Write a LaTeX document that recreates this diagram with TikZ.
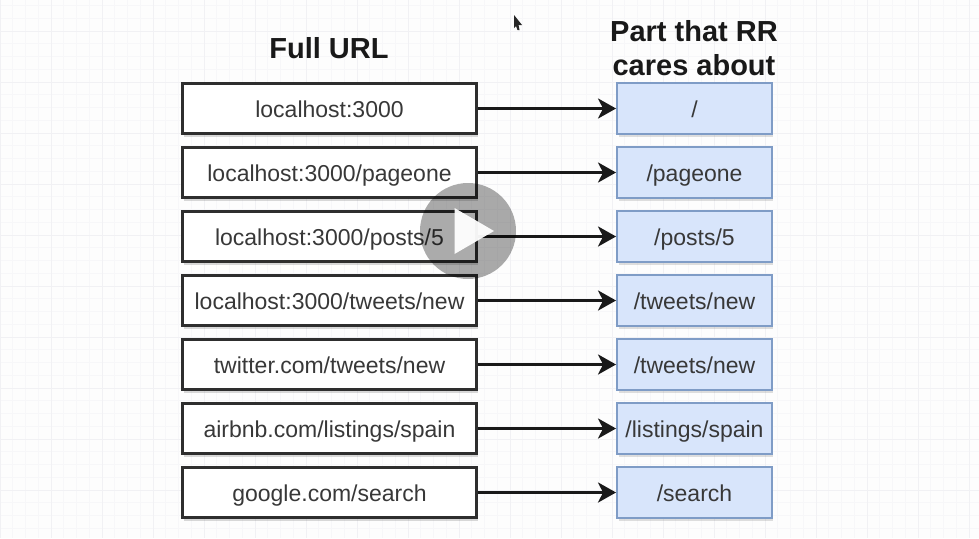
\documentclass[tikz,border=0pt]{standalone}
\usepackage{fontspec}
\setmainfont{Liberation Sans}
\usetikzlibrary{arrows.meta,shadows}
\definecolor{partfill}{HTML}{D8E5FB}
\definecolor{partline}{HTML}{7F9CC6}
\definecolor{urlline}{HTML}{2E2E2E}
\definecolor{gridfine}{HTML}{F7F7F9}
\definecolor{gridmajor}{HTML}{F1F1F4}
\definecolor{paper}{HTML}{FDFDFD}
\begin{document}
\begin{tikzpicture}[
    x=1pt, y=-1pt,
    urlbox/.style={rectangle, draw=urlline, fill=white, line width=3pt, minimum width=294pt, minimum height=50pt,
                   inner sep=0pt, font=\fontsize{23}{26}\selectfont, text=black!78, text height=22pt, text depth=5pt,
                   drop shadow={shadow xshift=1pt, shadow yshift=-3pt, opacity=0.3}},
    partbox/.style={rectangle, draw=partline, fill=partfill, line width=2.4pt, minimum width=154.5pt, minimum height=51pt,
                    inner sep=0pt, font=\fontsize{23}{26}\selectfont, text=black!78, text height=22pt, text depth=5pt,
                    drop shadow={shadow xshift=1.5pt, shadow yshift=-3pt, opacity=0.25}},
    title/.style={font=\fontsize{29}{34}\selectfont\bfseries, align=center, text=black!90, inner sep=0pt},
    link/.style={line width=3pt, {Stealth[length=18pt,width=20pt,inset=5pt]}-, black!90},
]
  \useasboundingbox (0,0) rectangle (979,538);
  \fill [paper] (0,0) rectangle (979,538);
  % grid
  \foreach \k in {0,...,76}
    \draw [gridfine, line width=1pt] (\k*12.75,0) -- (\k*12.75,538);
  \foreach \k in {0,...,42}
    \draw [gridfine, line width=1pt] (0,5.5+\k*12.75) -- (979,5.5+\k*12.75);
  \foreach \k in {0,...,19}
    \draw [gridmajor, line width=1pt] (\k*51,0) -- (\k*51,538);
  \foreach \k in {0,...,10}
    \draw [gridmajor, line width=1pt] (0,31+\k*51) -- (979,31+\k*51);

  \node [title] (fullhead) at (329,48)  {Full URL};
  \node [title] (parthead) at (694,48.5)  {Part that RR\\cares about};

  \node [urlbox]  (url1)  at (329.5,108.5) {localhost:3000};
  \node [urlbox]  (url2)  at (329.5,172.5) {localhost:3000/pageone};
  \node [urlbox]  (url3)  at (329.5,236.5) {localhost:3000/posts/5};
  \node [urlbox]  (url4)  at (329.5,300.5) {localhost:3000/tweets/new};
  \node [urlbox]  (url5)  at (329.5,364.5) {twitter.com/tweets/new};
  \node [urlbox]  (url6)  at (329.5,428.5) {airbnb.com/listings/spain};
  \node [urlbox]  (url7)  at (329.5,492.5) {google.com/search};

  \node [partbox] (part1) at (694.5,108.5) {/}               edge [link] (url1);
  \node [partbox] (part2) at (694.5,172.5) {/pageone}        edge [link] (url2);
  \node [partbox] (part3) at (694.5,236.5) {/posts/5}        edge [link] (url3);
  \node [partbox] (part4) at (694.5,300.5) {/tweets/new}     edge [link] (url4);
  \node [partbox] (part5) at (694.5,364.5) {/tweets/new}     edge [link] (url5);
  \node [partbox] (part6) at (694.5,428.5) {/listings/spain} edge [link] (url6);
  \node [partbox] (part7) at (694.5,492.5) {/search}         edge [link] (url7);

  % play button and pointer
  \fill [black, opacity=0.33] (468,231) circle [radius=48];
  \fill [white, opacity=0.95] (454.5,208) -- (494,231) -- (454.5,254) -- cycle;
  \fill [black!85] (514,15) -- (522,25) -- (518.5,25) -- (519.5,30) -- (517.5,30) -- (516,26) -- (514,28) -- cycle;
\end{tikzpicture}
\end{document}
